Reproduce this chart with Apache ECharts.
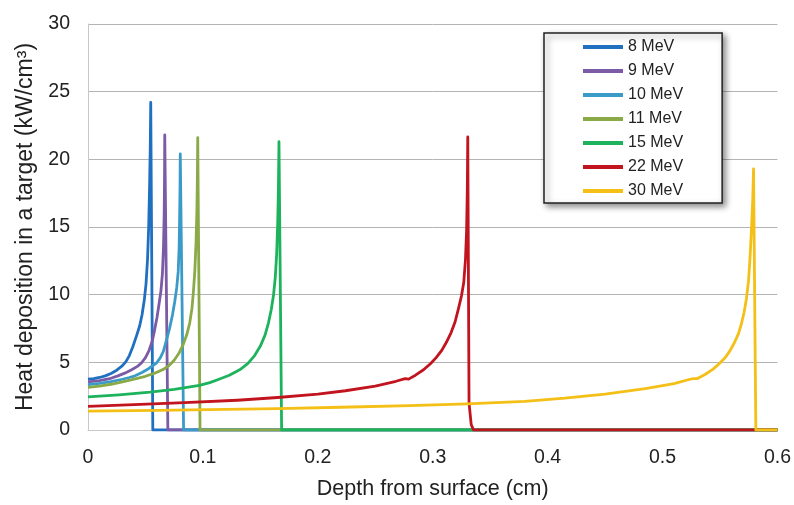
<!DOCTYPE html>
<html>
<head>
<meta charset="utf-8">
<script src="https://cdn.jsdelivr.net/npm/echarts@6/dist/echarts.min.js"></script>
<style>
html,body{margin:0;padding:0;background:#fff;}
#chart{width:794px;height:505px;}
</style>
</head>
<body>
<div id="chart"></div>
<script>
const seriesNames = ['8 MeV', '9 MeV', '10 MeV', '11 MeV', '15 MeV', '22 MeV', '30 MeV'];

const mev8 = [[0,3.75],[0.005,3.8],[0.01,3.88],[0.015,4.0],[0.02,4.18],[0.025,4.42],[0.03,4.75],[0.033,5.05],[0.036,5.5],[0.039,6.15],[0.042,6.9],[0.045,7.7],[0.047,8.5],[0.049,9.6],[0.0505,10.8],[0.0518,12.6],[0.0528,15.0],[0.0536,18],[0.0542,21],[0.0546,24.2],[0.0564,0],[0.6,0]];
const mev9 = [[0,3.55],[0.01,3.65],[0.02,3.82],[0.026,4.0],[0.032,4.2],[0.038,4.45],[0.043,4.7],[0.0465,4.95],[0.05,5.35],[0.053,5.85],[0.056,6.6],[0.058,7.4],[0.06,8.3],[0.062,9.4],[0.0635,10.3],[0.0648,11.6],[0.0657,13.5],[0.0663,16],[0.0666,18.5],[0.0668,21.8],[0.0695,0],[0.6,0]];
const mev10 = [[0,3.35],[0.01,3.45],[0.02,3.58],[0.03,3.75],[0.036,3.88],[0.041,4.0],[0.047,4.25],[0.053,4.55],[0.0596,4.95],[0.063,5.35],[0.0655,5.8],[0.068,6.55],[0.071,7.5],[0.0735,8.5],[0.0755,9.5],[0.0772,10.5],[0.0785,11.7],[0.0793,13.5],[0.0798,16],[0.0801,18],[0.0803,20.4],[0.0832,0],[0.6,0]];
const mev11 = [[0,3.15],[0.01,3.25],[0.02,3.38],[0.03,3.55],[0.042,3.8],[0.05,3.97],[0.058,4.2],[0.066,4.5],[0.071,4.8],[0.075,5.15],[0.079,5.65],[0.083,6.35],[0.086,7.05],[0.0885,7.9],[0.0905,9.0],[0.0918,10.3],[0.093,11.8],[0.094,13.8],[0.0948,16.3],[0.0952,18.8],[0.0955,21.6],[0.0975,0],[0.6,0]];
const mev15 = [[0,2.45],[0.027,2.6],[0.054,2.8],[0.075,3.0],[0.097,3.3],[0.106,3.5],[0.114,3.75],[0.123,4.05],[0.132,4.45],[0.139,4.9],[0.145,5.5],[0.15,6.2],[0.154,7.0],[0.157,7.9],[0.1595,8.9],[0.1615,10.0],[0.163,11.3],[0.1642,13],[0.1651,15.3],[0.1657,17.8],[0.1662,21.3],[0.1685,0],[0.6,0]];
const mev22 = [[0,1.75],[0.04,1.88],[0.084,2.02],[0.13,2.2],[0.165,2.4],[0.2,2.65],[0.224,2.9],[0.25,3.25],[0.268,3.6],[0.276,3.8],[0.279,3.76],[0.285,4.05],[0.292,4.45],[0.298,4.9],[0.303,5.35],[0.308,5.9],[0.312,6.5],[0.316,7.2],[0.3195,8.0],[0.3225,9.0],[0.325,9.9],[0.327,10.9],[0.3285,12.6],[0.3295,14.8],[0.3301,17.8],[0.3305,21.65],[0.3316,2.0],[0.3335,0.4],[0.3355,0],[0.6,0]];
const mev30 = [[0,1.4],[0.06,1.45],[0.12,1.52],[0.165,1.58],[0.22,1.68],[0.28,1.8],[0.33,1.93],[0.38,2.12],[0.415,2.35],[0.45,2.65],[0.485,3.05],[0.51,3.42],[0.524,3.75],[0.527,3.8],[0.53,3.79],[0.537,4.1],[0.544,4.5],[0.55,4.95],[0.555,5.4],[0.559,5.9],[0.5625,6.45],[0.566,7.1],[0.5685,7.8],[0.571,8.7],[0.573,9.7],[0.5748,11],[0.5762,12.8],[0.5775,15],[0.5785,17],[0.5792,19.3],[0.5812,0],[0.6,0]];

const seriesData = [mev8, mev9, mev10, mev11, mev15, mev22, mev30];
const colors = ['#2070c2', '#7b5aa6', '#3a9bc8', '#8aaa48', '#1db35c', '#c2141e', '#f4bf16'];

const xTicks = [0, 0.1, 0.2, 0.3, 0.4, 0.5, 0.6];
const yTicks = [0, 5, 10, 15, 20, 25, 30];

const FONT = 'Liberation Sans';

const chart = echarts.init(document.getElementById('chart'), null, {renderer: 'canvas'});
chart.setOption({
  animation: false,
  backgroundColor: '#ffffff',
  color: colors,
  textStyle: {fontFamily: FONT},
  grid: {left: 88, right: 14, top: 24, bottom: 70, containLabel: false},
  legend: {
    orient: 'vertical',
    left: 544,
    top: 33,
    data: seriesNames,
    icon: 'rect',
    itemWidth: 40,
    itemHeight: 4,
    itemGap: 6,
    padding: [5, 39, 3, 39],
    backgroundColor: '#ffffff',
    borderColor: '#222',
    borderWidth: 1.5,
    borderRadius: 0,
    shadowColor: 'rgba(0,0,0,0.45)',
    shadowBlur: 6,
    shadowOffsetX: 3,
    shadowOffsetY: 3,
    textStyle: {fontFamily: FONT, fontSize: 16, color: '#222', lineHeight: 18}
  },
  xAxis: {
    type: 'value',
    min: xTicks[0],
    max: xTicks[xTicks.length - 1],
    interval: 0.1,
    name: 'Depth from surface (cm)',
    nameLocation: 'middle',
    nameGap: 48,
    nameTextStyle: {fontFamily: FONT, fontSize: 21.5, color: '#222'},
    axisLine: {show: true, lineStyle: {color: '#c8c8c8', width: 1}},
    axisTick: {show: false},
    splitLine: {show: false},
    axisLabel: {
      fontFamily: FONT, fontSize: 19.5, color: '#222', margin: 18,
      formatter: v => (v === 0 ? '0' : v.toFixed(1))
    }
  },
  yAxis: {
    type: 'value',
    min: yTicks[0],
    max: yTicks[yTicks.length - 1],
    interval: 5,
    name: 'Heat deposition in a target (kW/cm³)',
    nameLocation: 'middle',
    nameGap: 46,
    nameTextStyle: {fontFamily: FONT, fontSize: 23, color: '#222'},
    axisLine: {show: true, lineStyle: {color: '#c8c8c8', width: 1}},
    axisTick: {show: false},
    splitLine: {show: true, lineStyle: {color: '#b4b4b4', width: 1}},
    axisLabel: {fontFamily: FONT, fontSize: 19.5, color: '#222', margin: 18}
  },
  series: seriesNames.map((name, i) => ({
    name: name,
    type: 'line',
    data: seriesData[i],
    showSymbol: false,
    symbol: 'none',
    smooth: false,
    lineStyle: {width: 2.8, color: colors[i], join: 'round'},
    itemStyle: {color: colors[i]},
    emphasis: {disabled: true}
  }))
});
</script>
</body>
</html>
